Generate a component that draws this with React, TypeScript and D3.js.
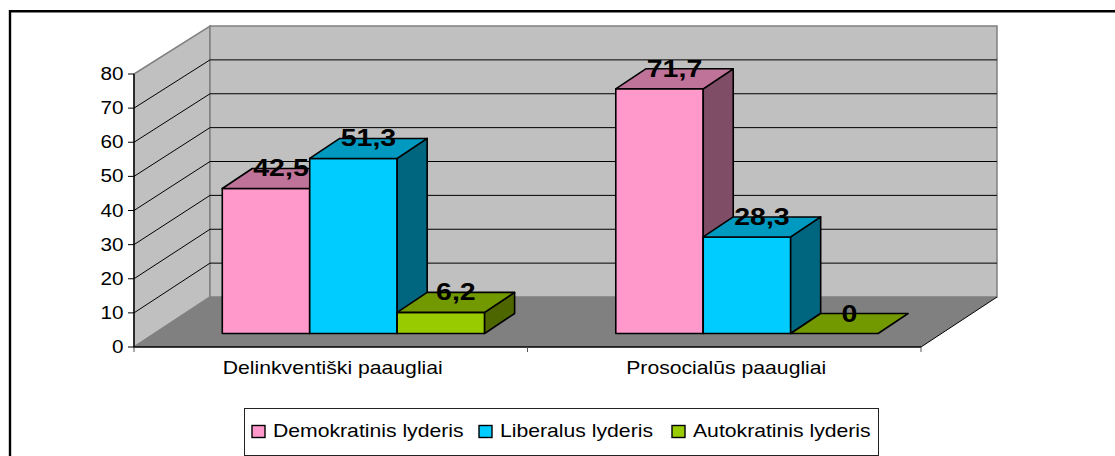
import React from "react";
import * as d3 from "d3";

const categories = ["Delinkventiški paaugliai", "Prosocialūs paaugliai"];
const seriesNames = ["Demokratinis lyderis", "Liberalus lyderis", "Autokratinis lyderis"];
const demokratinis = [42.5, 71.7];
const liberalus = [51.3, 28.3];
const autokratinis = [6.2, 0];
const yTicks = [0, 10, 20, 30, 40, 50, 60, 70, 80];
const frontColors = ["#FF99CC", "#00CCFF", "#99CC00"];
const topColors = ["#BF7399", "#0099BF", "#739900"];
const sideColors = ["#804D66", "#006680", "#4D6600"];

const W = 1115, H = 456;
const FONT = "'Liberation Sans', Arial, sans-serif";
const x0 = 134, x1 = 921, dx = 76;
const yFront = d3.scaleLinear().domain([0, 80]).range([347, 74]);
const yBack = d3.scaleLinear().domain([0, 80]).range([297, 26]);
const yBar = d3.scaleLinear().domain([0, 80]).range([333.5, 60.5]);
const band = d3.scaleBand<string>().domain(categories).range([x0, x1]);
const barW = band.bandwidth() / 4.5;
const planeShift = 22.7, depthX = 30, depthY = 20;
const allSeries = [demokratinis, liberalus, autokratinis];
const fmt = (v: number) => String(v).replace(".", ",");
const pts = (p: number[][]) => p.map((q) => q.join(",")).join(" ");

function SText(props: { x: number; y: number; sx: number; size: number; anchor: string; bold?: boolean; children: string }) {
  const { x, y, sx, size, anchor, bold, children } = props;
  return (
    <text
      transform={`translate(${x},${y}) scale(${sx},1)`}
      fontFamily={FONT}
      fontSize={size}
      fontWeight={bold ? 700 : 400}
      textAnchor={anchor}
      fill="#000"
    >
      {children}
    </text>
  );
}

const legendItems = [
  { sw: 252, tx: 273 },
  { sw: 479, tx: 500 },
  { sw: 672, tx: 693 },
];

export default function App() {
  const backR = x1 + dx, backL = x0 + dx;
  return (
    <svg width={W} height={H} style={{ position: "absolute", left: 0, top: 0, display: "block" }}>
      <rect width={W} height={H} fill="#fff" />
      <path d={`M10,${H} V11.2 H${W}`} fill="none" stroke="#000" strokeWidth={2.4} />

      <polygon points={pts([[x0, yFront(0)], [x0, yFront(80)], [backL, yBack(80)], [backL, yBack(0)]])} fill="#C0C0C0" stroke="#808080" strokeWidth={1.5} />
      <polygon points={pts([[backL, yBack(80)], [backR, yBack(80)], [backR, yBack(0)], [backL, yBack(0)]])} fill="#C0C0C0" stroke="#808080" strokeWidth={1.5} />
      <polygon points={pts([[x0, yFront(0)], [x1, yFront(0)], [backR, yBack(0)], [backL, yBack(0)]])} fill="#808080" />

      {yTicks.filter((t) => t > 0 && t < 80).map((t) => (
        <path key={t} d={`M${x0},${yFront(t)} L${backL},${yBack(t)} H${backR}`} fill="none" stroke="#000" strokeWidth={1} />
      ))}

      <path d={`M${x1},${yFront(0)} L${backR},${yBack(0)}`} stroke="#000" strokeWidth={1} />
      <path d={`M${x0},${yFront(80)} V${yFront(0)} H${x1}`} fill="none" stroke="#000" strokeWidth={1.4} />
      {yTicks.map((t) => (
        <path key={t} d={`M${x0 - 6},${yFront(t)} H${x0}`} stroke="#000" strokeWidth={1} />
      ))}
      {[x0, x0 + band.bandwidth(), x1].map((x) => (
        <path key={x} d={`M${x},${yFront(0)} V${yFront(0) + 5}`} stroke="#555" strokeWidth={1} />
      ))}

      {yTicks.map((t) => (
        <SText key={t} x={123.5} y={yFront(t) + 6} sx={1.12} size={18.5} anchor="end">{String(t)}</SText>
      ))}

      {categories.map((c, ci) =>
        allSeries.map((vals, si) => {
          const v = vals[ci];
          const l = (band(c) as number) + planeShift + 0.75 * barW + si * barW;
          const r = l + barW;
          const b = yBar(0), t = yBar(v);
          const stroke = { stroke: "#000", strokeWidth: 1.6, strokeLinejoin: "round" as const };
          return (
            <g key={si}>
              {v > 0 && <rect x={l} y={t} width={barW} height={b - t} fill={frontColors[si]} {...stroke} />}
              {v > 0 && <polygon points={pts([[r, b], [r, t], [r + depthX, t - depthY], [r + depthX, b - depthY]])} fill={sideColors[si]} {...stroke} />}
              <polygon points={pts([[l, t], [r, t], [r + depthX, t - depthY], [l + depthX, t - depthY]])} fill={topColors[si]} {...stroke} />
            </g>
          );
        })
      )}

      {categories.map((c, ci) =>
        allSeries.map((vals, si) => {
          const l = (band(c) as number) + planeShift + 0.75 * barW + si * barW;
          return (
            <SText key={`${ci}-${si}`} x={l + barW / 2 + 15} y={yBar(vals[ci]) - 12} sx={1.24} size={23} anchor="middle" bold>
              {fmt(vals[ci])}
            </SText>
          );
        })
      )}

      {categories.map((c) => (
        <SText key={c} x={(band(c) as number) + band.bandwidth() / 2 + 2} y={374} sx={1.145} size={18.5} anchor="middle">{c}</SText>
      ))}

      <rect x={244.5} y={408.5} width={634} height={47} fill="#fff" stroke="#222" strokeWidth={1} />
      {seriesNames.map((n, i) => (
        <g key={n}>
          <rect x={legendItems[i].sw} y={425.5} width={13} height={12} fill={frontColors[i]} stroke="#000" strokeWidth={1.4} />
          <SText x={legendItems[i].tx} y={436.5} sx={1.145} size={18.5} anchor="start">{n}</SText>
        </g>
      ))}
    </svg>
  );
}
